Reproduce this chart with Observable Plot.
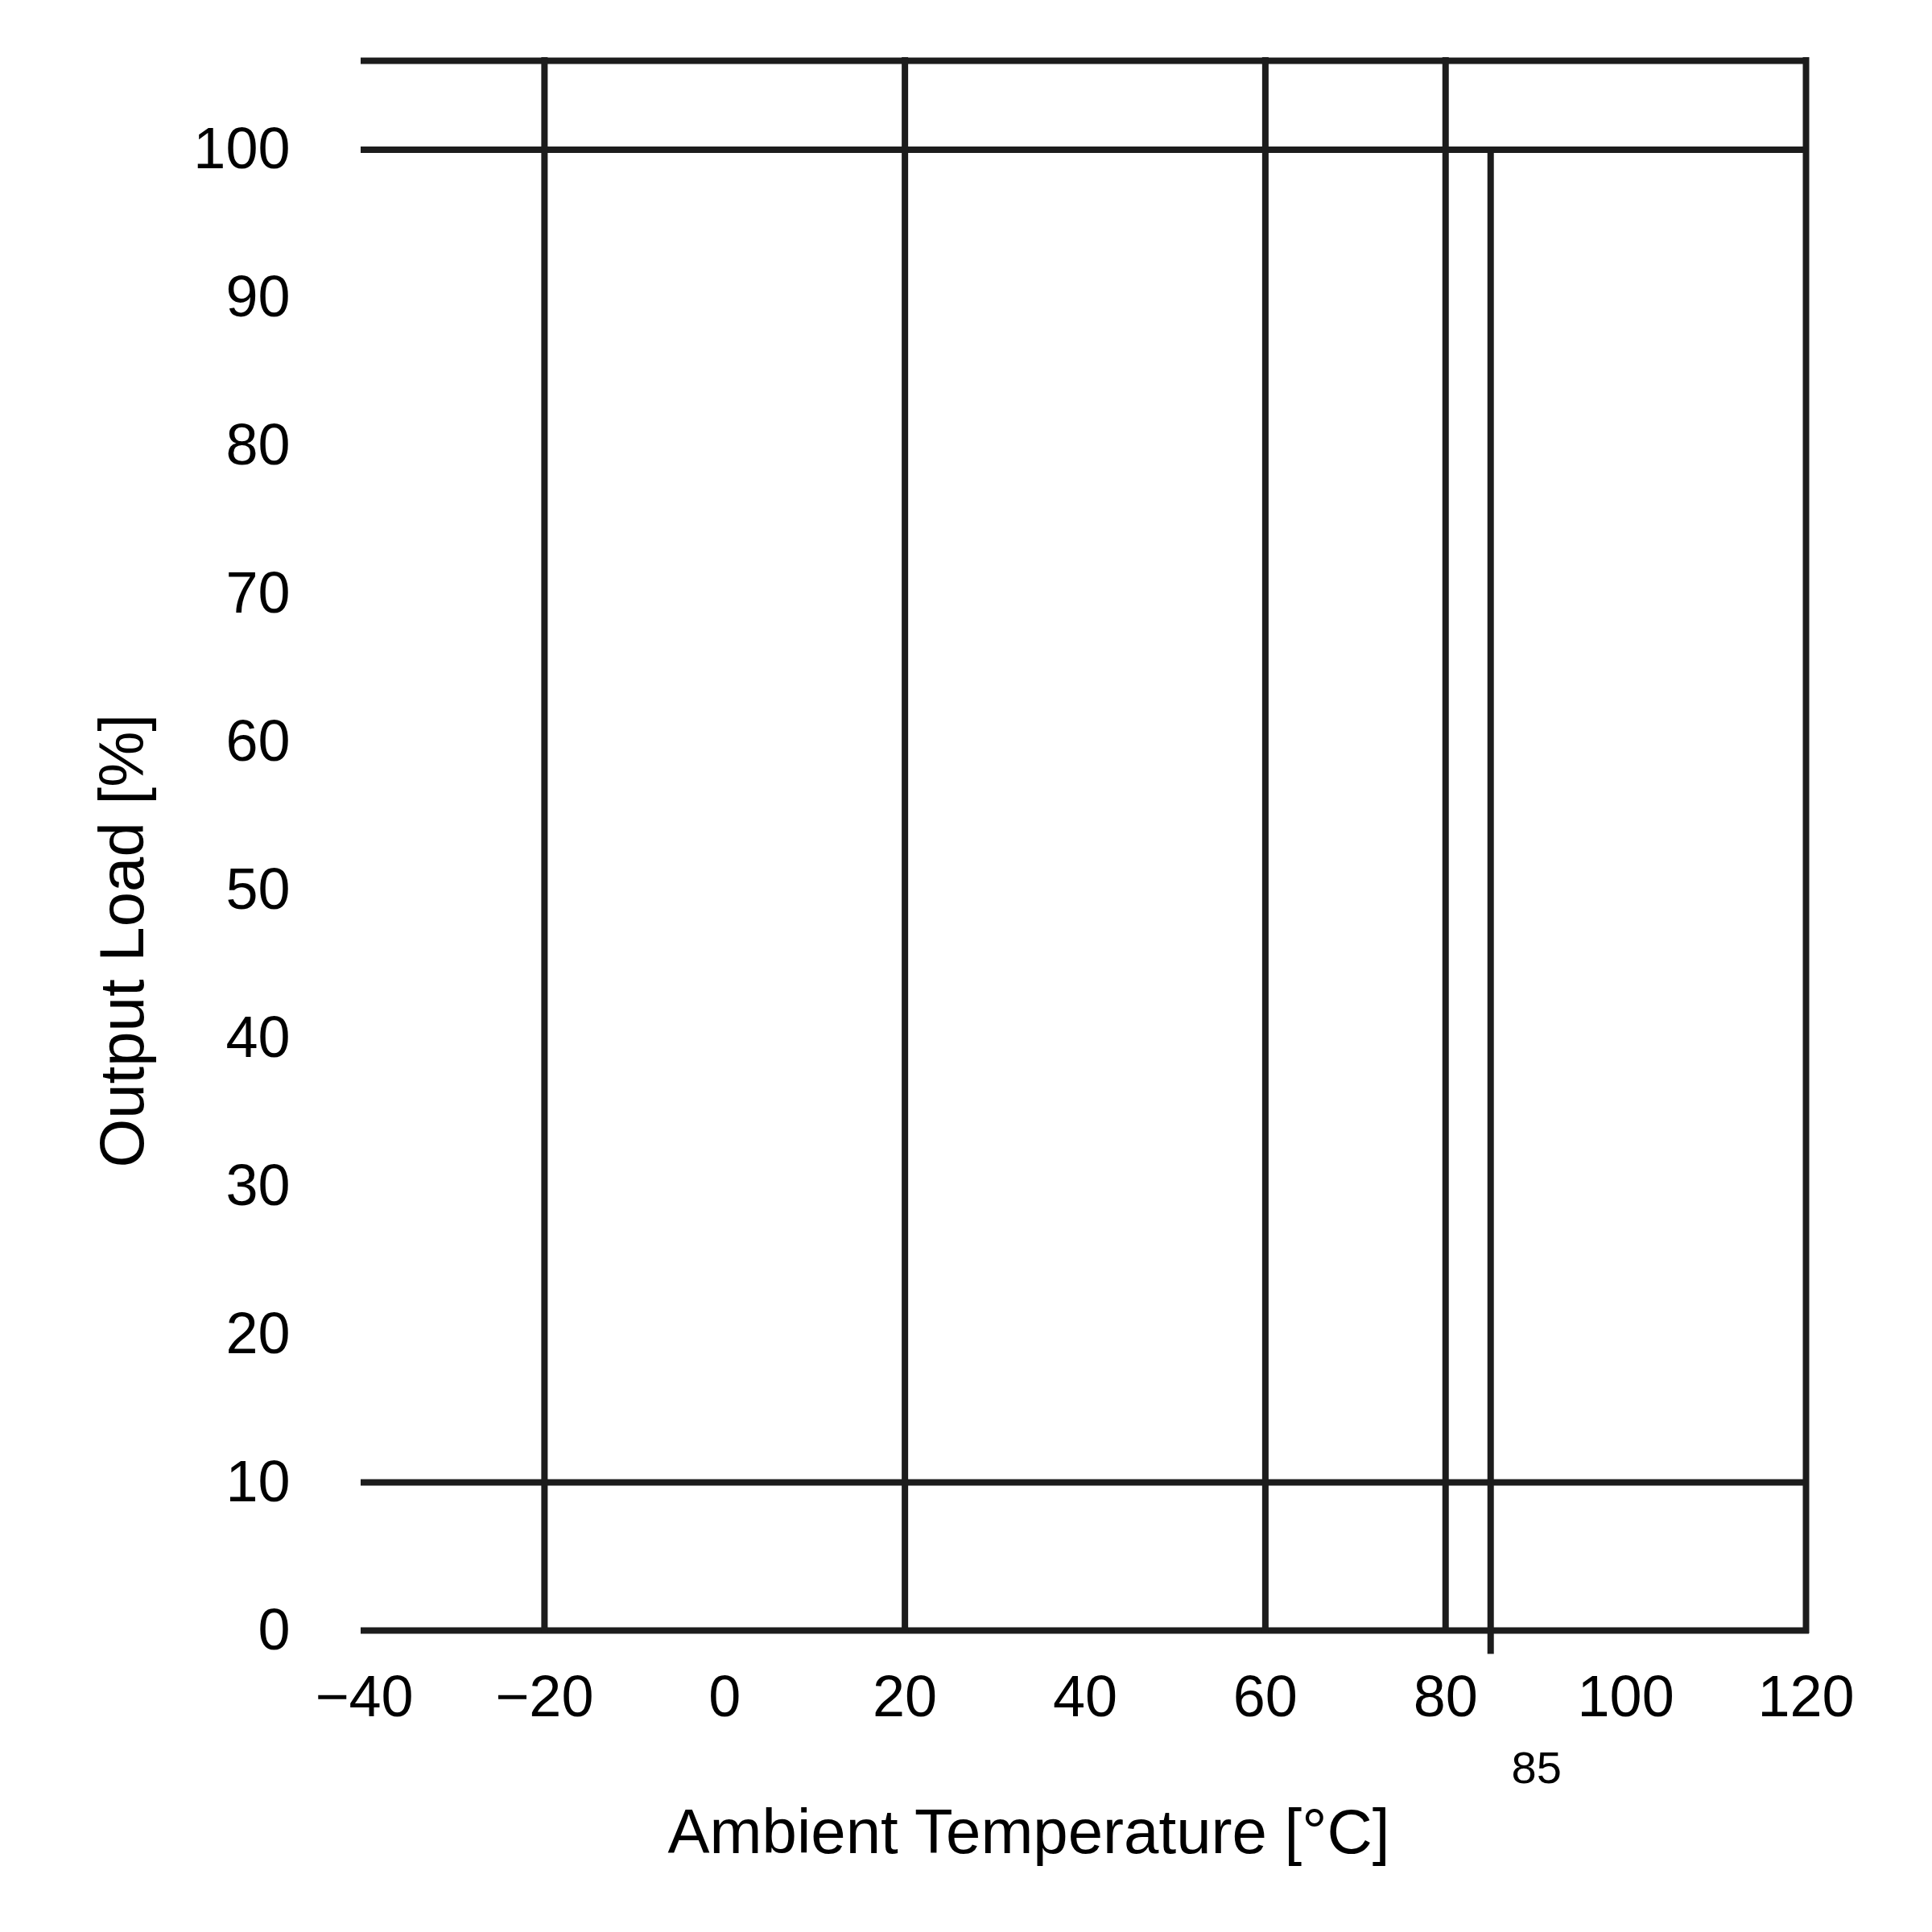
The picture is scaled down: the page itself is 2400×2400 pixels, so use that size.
<!DOCTYPE html>
<html><head><meta charset="utf-8">
<script src="https://cdn.jsdelivr.net/npm/d3@7"></script>
<script src="https://cdn.jsdelivr.net/npm/@observablehq/plot@0.6"></script>
<style>html,body{margin:0;padding:0;background:#fff}</style>
</head><body><div id="chart"></div>
<script>
// ---- data ----
const xTicks = [-40, -20, 0, 20, 40, 60, 80, 100, 120];
const yTicks = [0, 10, 20, 30, 40, 50, 60, 70, 80, 90, 100];
const fullHeightTemps = [-20, 20, 60, 80, 120];
const loadLevels = [0, 10, 100, 106];
const cutoffTemp = 85;
const cutoffTop = 100;
const cutoffTickBottom = -1.6;
const xDomain = [-40, 120];
const yDomain = [0, 106];
const xTitle = "Ambient Temperature [°C]";
const yTitle = "Output Load [%]";
const cutoffLabel = "85";

const ink = "#1c1c1c";
const sw = 8;

const chart = Plot.plot({
  width: 2400,
  height: 2400,
  marginLeft: 452,
  marginRight: 157,
  marginTop: 75,
  marginBottom: 375,
  style: {fontFamily: "'Liberation Sans', Arial, sans-serif", background: "#fff", color: "#000"},
  x: {domain: xDomain},
  y: {domain: yDomain},
  marks: [
    Plot.ruleY(loadLevels, {y: d => d, x1: xDomain[0], x2: xDomain[1], stroke: ink, strokeWidth: sw, strokeLinecap: "square"}),
    Plot.ruleX(fullHeightTemps, {x: d => d, y1: yDomain[0], y2: yDomain[1], stroke: ink, strokeWidth: sw, strokeLinecap: "square"}),
    Plot.ruleX([cutoffTemp], {x: d => d, y1: cutoffTickBottom, y2: cutoffTop, stroke: ink, strokeWidth: sw}),
    Plot.axisX(xTicks, {tickSize: 0, tickPadding: 55, fontSize: 72, label: null, fill: "#000"}),
    Plot.axisY(yTicks, {tickSize: 0, tickPadding: 92, fontSize: 72, label: null, fill: "#000"}),
    Plot.text([cutoffLabel], {x: cutoffTemp, y: yDomain[0], text: d => d, dx: 57, dy: 172, fontSize: 56, fill: "#000"}),
    Plot.text([xTitle], {text: d => d, frameAnchor: "bottom", dx: -70, dy: 276, fontSize: 78, fill: "#000"}),
    Plot.text([yTitle], {text: d => d, frameAnchor: "left", rotate: -90, dx: -299, dy: 400, fontSize: 78, fill: "#000"})
  ]
});
document.getElementById("chart").appendChild(chart);
</script>
</body></html>
